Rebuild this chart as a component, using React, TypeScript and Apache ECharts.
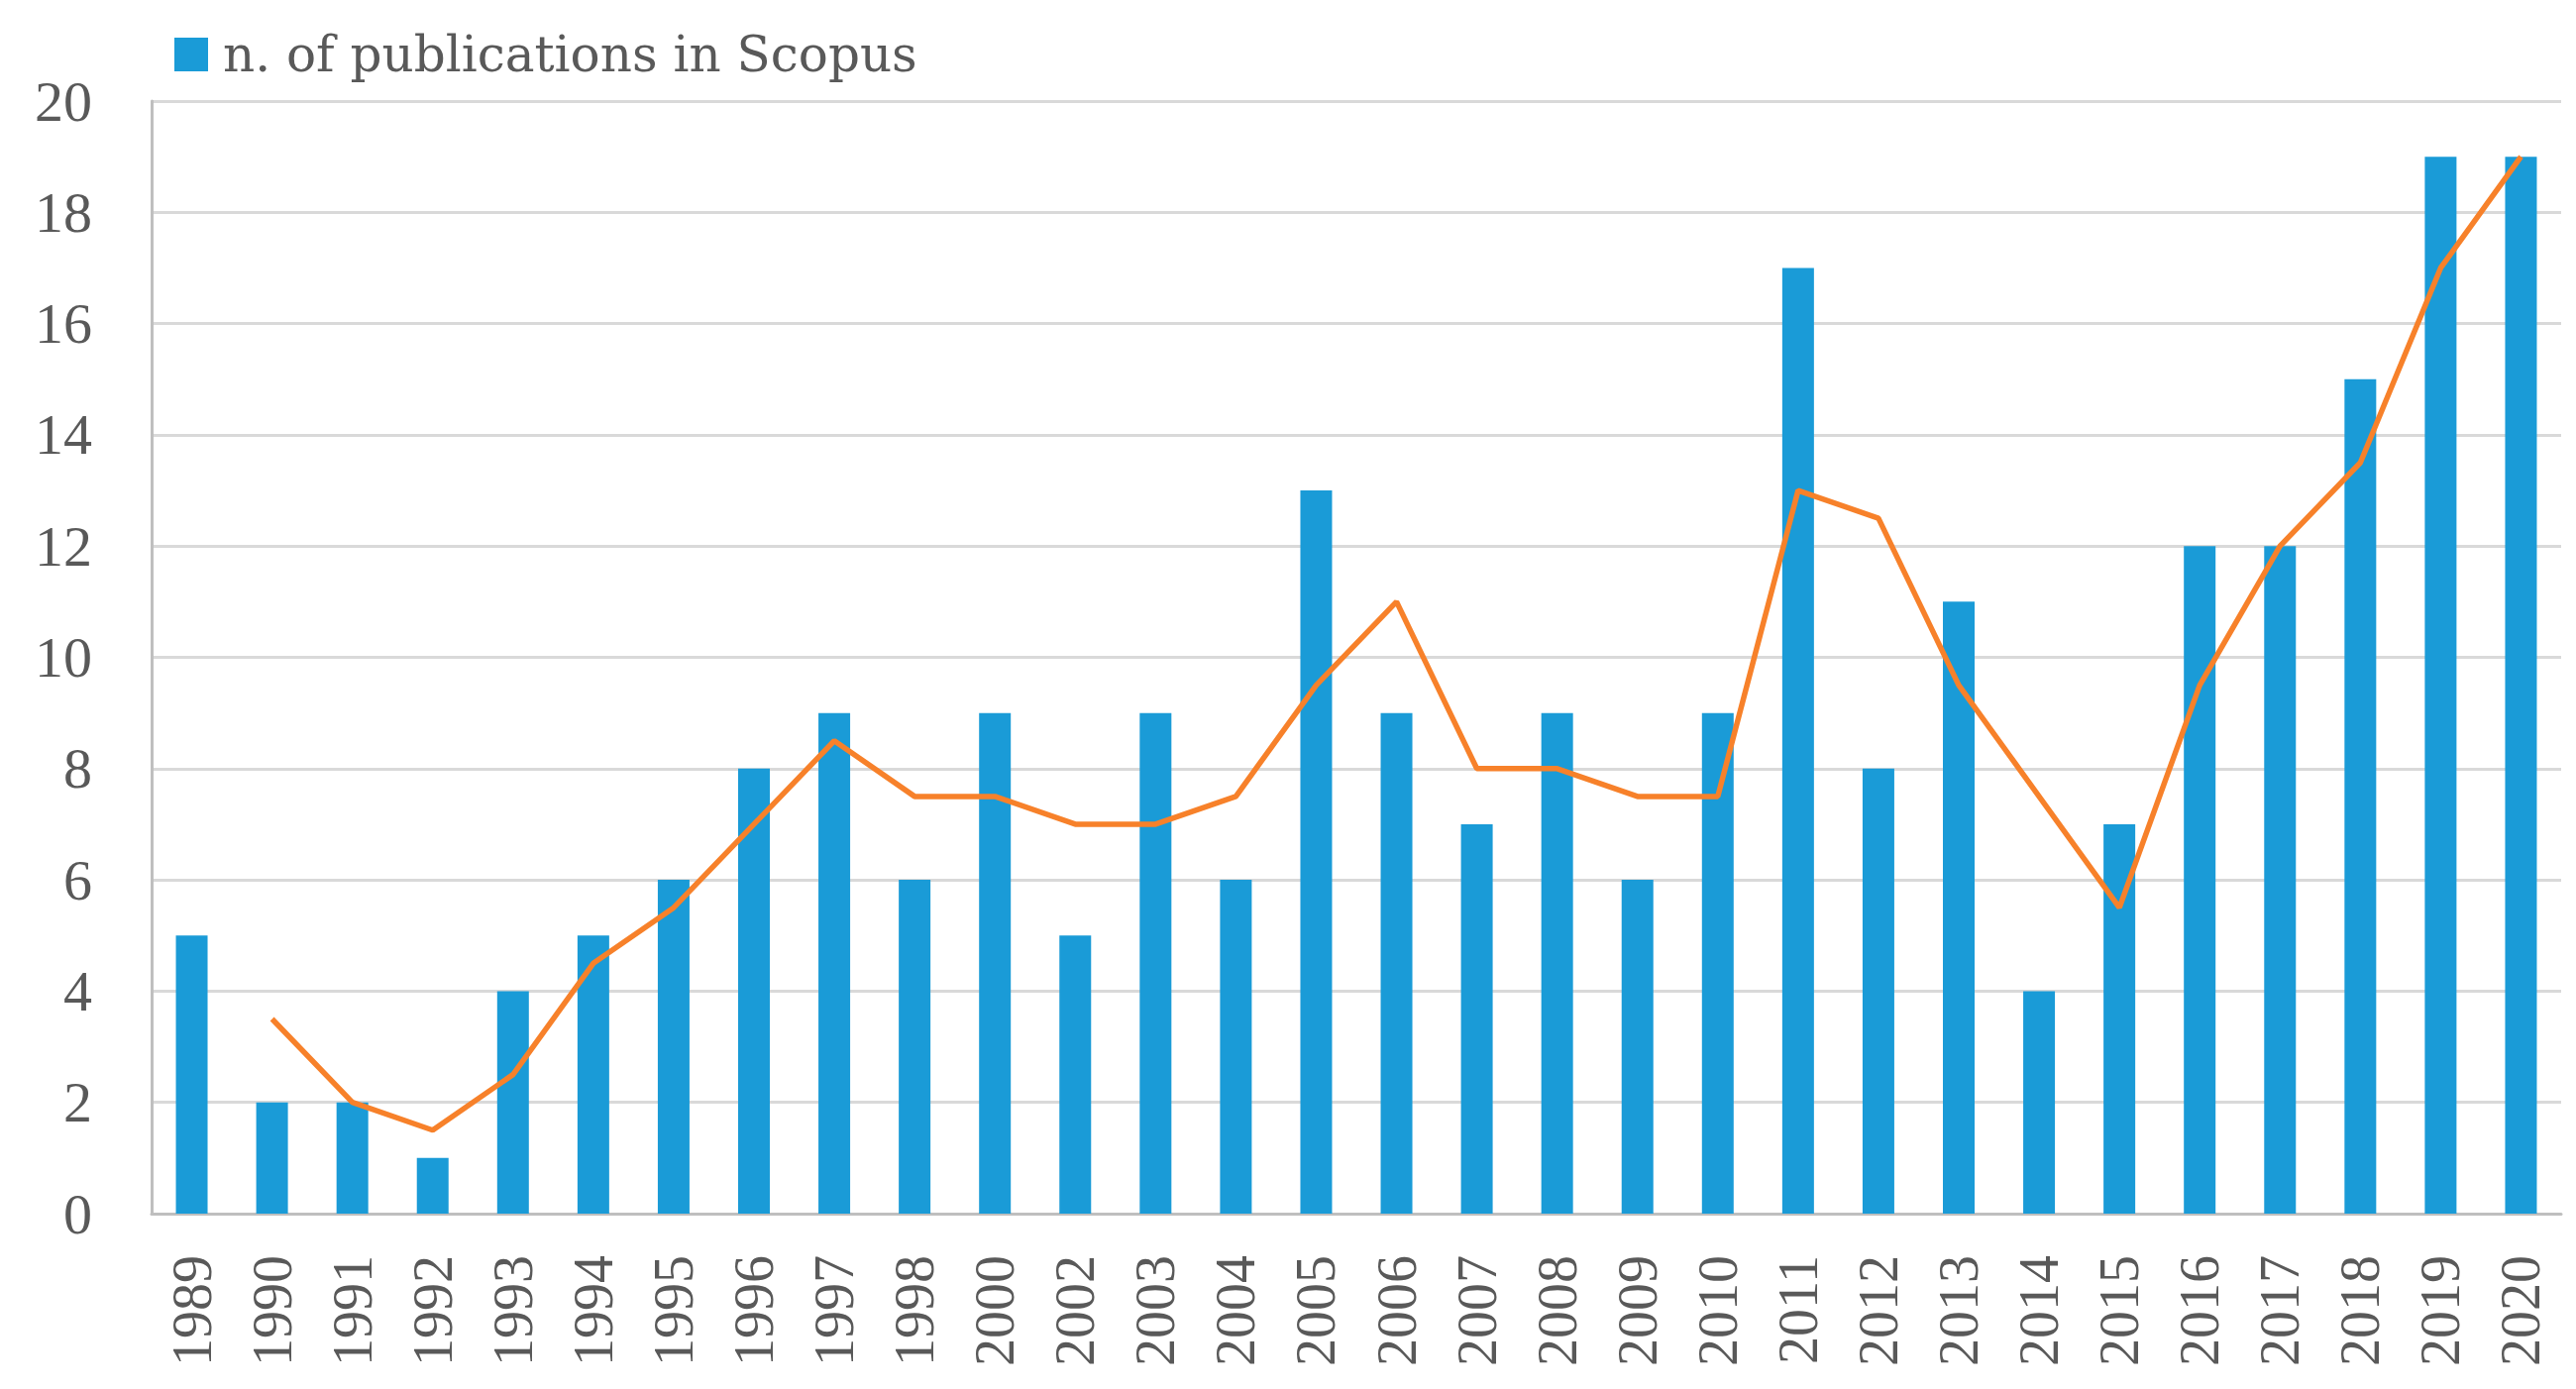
import React, { useEffect, useRef } from "react";
import * as echarts from "echarts";

const years = [
  "1989", "1990", "1991", "1992", "1993", "1994", "1995", "1996", "1997", "1998",
  "2000", "2002", "2003", "2004", "2005", "2006", "2007", "2008", "2009", "2010",
  "2011", "2012", "2013", "2014", "2015", "2016", "2017", "2018", "2019", "2020",
];

const publications = [
  5, 2, 2, 1, 4, 5, 6, 8, 9, 6,
  9, 5, 9, 6, 13, 9, 7, 9, 6, 9,
  17, 8, 11, 4, 7, 12, 12, 15, 19, 19,
];

// 2-period moving average trendline
const trend = [
  null, 3.5, 2, 1.5, 2.5, 4.5, 5.5, 7, 8.5, 7.5,
  7.5, 7, 7, 7.5, 9.5, 11, 8, 8, 7.5, 7.5,
  13, 12.5, 9.5, 7.5, 5.5, 9.5, 12, 13.5, 17, 19,
];

const seriesName = "n. of publications in Scopus";
const yMin = 0;
const yMax = 20;
const yStep = 2;

export default function App() {
  const ref = useRef<HTMLDivElement>(null);

  useEffect(() => {
    document.body.style.margin = "0";
    const chart = echarts.init(ref.current!, null, { renderer: "svg" });
    const digitFont = "'Liberation Serif', 'DejaVu Serif', serif";
    const legendFont = "'DejaVu Serif', 'Liberation Serif', serif";
    chart.setOption({
      animation: false,
      backgroundColor: "#ffffff",
      textStyle: { fontFamily: digitFont },
      legend: {
        left: 171,
        top: 20,
        itemWidth: 34,
        itemHeight: 34,
        icon: "rect",
        data: [seriesName],
        textStyle: {
          fontFamily: legendFont,
          fontSize: 50,
          lineHeight: 60,
          color: "#595959",
          padding: [0, 0, 0, 10],
        },
      },
      grid: {
        left: 153,
        right: 15,
        top: 102,
        bottom: 177,
        containLabel: false,
      },
      xAxis: {
        type: "category",
        data: years,
        boundaryGap: true,
        axisLine: { show: true, lineStyle: { color: "#bfbfbf", width: 3 } },
        axisTick: { show: false },
        axisLabel: {
          rotate: 90,
          margin: 42,
          fontFamily: digitFont,
          fontSize: 56,
          color: "#595959",
          interval: 0,
        },
      },
      yAxis: {
        type: "value",
        min: yMin,
        max: yMax,
        interval: yStep,
        axisLine: { show: true, lineStyle: { color: "#bfbfbf", width: 3 } },
        axisTick: { show: false },
        splitLine: { show: true, lineStyle: { color: "#d9d9d9", width: 3 } },
        axisLabel: {
          margin: 60,
          fontFamily: digitFont,
          fontSize: 58,
          color: "#595959",
        },
      },
      series: [
        {
          name: seriesName,
          type: "bar",
          data: publications,
          barWidth: 32,
          itemStyle: { color: "#1a9bd7" },
        },
        {
          name: "trend",
          type: "line",
          data: trend,
          symbol: "none",
          connectNulls: false,
          lineStyle: { color: "#f7812a", width: 5.5 },
          itemStyle: { color: "#f7812a" },
          z: 3,
        },
      ],
    });
    return () => chart.dispose();
  }, []);

  return (
    <div
      ref={ref}
      style={{ position: "absolute", left: 0, top: 0, width: 2600, height: 1402 }}
    />
  );
}
